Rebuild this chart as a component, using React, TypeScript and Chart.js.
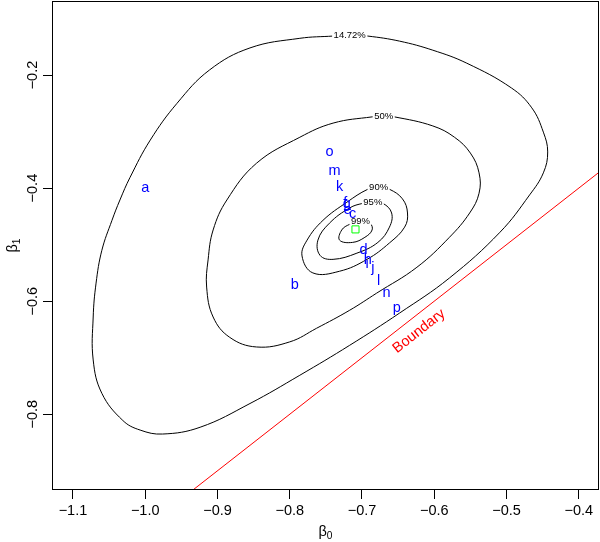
import { useEffect, useRef } from 'react';
import { Chart, registerables } from 'chart.js';

Chart.register(...registerables);

const FONT = '"Liberation Sans", Arial, Helvetica, sans-serif';

// Axis ranges and ticks
const xRange = [-1.129, -0.372];
const yRange = [-0.934, -0.069];
const xTicks = [-1.1, -1.0, -0.9, -0.8, -0.7, -0.6, -0.5, -0.4];
const yTicks = [-0.8, -0.6, -0.4, -0.2];

// Contour curves (closed)
const c1472X = [-0.717, -0.692, -0.648, -0.602, -0.555, -0.493, -0.465, -0.449, -0.443, -0.449, -0.468, -0.509, -0.579, -0.648, -0.717, -0.786, -0.855, -0.924, -0.976, -1.007, -1.031, -1.060, -1.072, -1.072, -1.068, -1.060, -1.046, -1.035, -1.021, -0.993, -0.956, -0.911, -0.855, -0.786, -0.740];
const c1472Y = [-0.129, -0.131, -0.140, -0.156, -0.179, -0.223, -0.258, -0.301, -0.336, -0.373, -0.412, -0.478, -0.559, -0.621, -0.678, -0.731, -0.781, -0.823, -0.835, -0.828, -0.811, -0.763, -0.704, -0.628, -0.568, -0.510, -0.457, -0.421, -0.381, -0.315, -0.250, -0.191, -0.152, -0.135, -0.131];

const c50X = [-0.670, -0.655, -0.602, -0.572, -0.550, -0.538, -0.538, -0.551, -0.579, -0.624, -0.680, -0.717, -0.763, -0.800, -0.846, -0.883, -0.906, -0.915, -0.913, -0.906, -0.887, -0.846, -0.786, -0.740, -0.686];
const c50Y = [-0.273, -0.274, -0.290, -0.310, -0.338, -0.373, -0.409, -0.444, -0.487, -0.540, -0.586, -0.616, -0.648, -0.672, -0.681, -0.664, -0.628, -0.575, -0.527, -0.474, -0.421, -0.356, -0.310, -0.285, -0.274];

const c90X = [-0.677, -0.662, -0.644, -0.637, -0.641, -0.662, -0.693, -0.731, -0.768, -0.783, -0.776, -0.754, -0.721, -0.692];
const c90Y = [-0.398, -0.402, -0.419, -0.444, -0.469, -0.497, -0.526, -0.547, -0.550, -0.520, -0.492, -0.457, -0.425, -0.402];

const c95X = [-0.685, -0.671, -0.659, -0.662, -0.678, -0.707, -0.740, -0.758, -0.761, -0.745, -0.717, -0.699];
const c95Y = [-0.425, -0.427, -0.444, -0.469, -0.496, -0.515, -0.526, -0.519, -0.492, -0.462, -0.435, -0.427];

const c99X = [-0.702, -0.689, -0.686, -0.696, -0.713, -0.731, -0.728, -0.717];
const c99Y = [-0.458, -0.462, -0.474, -0.487, -0.496, -0.492, -0.474, -0.464];

// Contour labels
const contourLabels = ['14.72%', '50%', '90%', '95%', '99%'];
const contourLabelX = [-0.717, -0.670, -0.677, -0.685, -0.702];
const contourLabelY = [-0.130, -0.273, -0.398, -0.425, -0.458];

// Letter-labelled points
const pointLetters = ['a', 'b', 'o', 'm', 'k', 'f', 'g', 'e', 'c', 'd', 'h', 'i', 'j', 'l', 'n', 'p'];
const pointX = [-1.000, -0.793, -0.745, -0.738, -0.731, -0.723, -0.721, -0.720, -0.713, -0.698, -0.692, -0.693, -0.685, -0.677, -0.666, -0.652];
const pointY = [-0.400, -0.568, -0.336, -0.370, -0.396, -0.423, -0.430, -0.439, -0.446, -0.506, -0.524, -0.531, -0.542, -0.561, -0.586, -0.614];

// Estimate (green square)
const mleX = [-0.709];
const mleY = [-0.473];

// Boundary line beta1 = beta0
const boundaryX = [-1.0, -0.3];
const boundaryY = [-1.0, -0.3];
const boundaryLabel = 'Boundary';
const boundaryLabelX = -0.621;
const boundaryLabelY = -0.653;

const fmt = (v: number) => (v < 0 ? '\u2212' : '') + Math.abs(v).toFixed(1);

function closed(xs: number[], ys: number[]) {
  const pts = xs.map((x, i) => ({ x, y: ys[i] }));
  const n = pts.length;
  return [pts[n - 1], ...pts, pts[0], pts[1]];
}

function contourDataset(xs: number[], ys: number[]) {
  const data = closed(xs, ys);
  const last = data.length - 1;
  return {
    type: 'scatter' as const,
    data,
    showLine: true,
    pointRadius: 0,
    borderColor: '#000',
    borderWidth: 1,
    tension: 0.4,
    segment: {
      borderColor: (ctx: any) =>
        ctx.p0DataIndex === 0 || ctx.p1DataIndex === last ? 'rgba(0,0,0,0)' : '#000',
    },
  };
}

function drawInk(ctx: CanvasRenderingContext2D, text: string, px: number, py: number) {
  ctx.textAlign = 'center';
  ctx.textBaseline = 'alphabetic';
  const m = ctx.measureText(text);
  ctx.fillText(text, px, py + (m.actualBoundingBoxAscent - m.actualBoundingBoxDescent) / 2);
}

function drawBetaSub(ctx: CanvasRenderingContext2D, sub: string, cx: number, baseY: number) {
  ctx.textAlign = 'left';
  ctx.textBaseline = 'alphabetic';
  ctx.font = `14.5px ${FONT}`;
  const wb = ctx.measureText('\u03B2').width;
  ctx.font = `10.2px ${FONT}`;
  const ws = ctx.measureText(sub).width;
  const start = cx - (wb + ws) / 2;
  ctx.font = `14.5px ${FONT}`;
  ctx.fillText('\u03B2', start, baseY);
  ctx.font = `10.2px ${FONT}`;
  ctx.fillText(sub, start + wb, baseY + 3);
}

const annotPlugin = {
  id: 'annot',
  afterDatasetsDraw(chart: any) {
    const { ctx, scales } = chart;
    const xs = scales.x;
    const ys = scales.y;
    ctx.save();
    // contour labels with gaps
    ctx.font = `9.5px ${FONT}`;
    contourLabels.forEach((t, i) => {
      const px = xs.getPixelForValue(contourLabelX[i]);
      const py = ys.getPixelForValue(contourLabelY[i]);
      const w = ctx.measureText(t).width + 3;
      ctx.fillStyle = '#fff';
      ctx.fillRect(px - w / 2, py - 4, w, 8);
      ctx.fillStyle = '#000';
      drawInk(ctx, t, px, py);
    });
    // letters
    ctx.font = `14.5px ${FONT}`;
    ctx.fillStyle = '#0000FF';
    pointLetters.forEach((t, i) => {
      drawInk(ctx, t, xs.getPixelForValue(pointX[i]), ys.getPixelForValue(pointY[i]));
    });
    // boundary label
    const p1x = xs.getPixelForValue(-0.9), p1y = ys.getPixelForValue(-0.9);
    const p2x = xs.getPixelForValue(-0.5), p2y = ys.getPixelForValue(-0.5);
    const ang = Math.atan2(p2y - p1y, p2x - p1x);
    ctx.translate(xs.getPixelForValue(boundaryLabelX), ys.getPixelForValue(boundaryLabelY));
    ctx.rotate(ang);
    ctx.fillStyle = '#FF0000';
    drawInk(ctx, boundaryLabel, 0, 0);
    ctx.restore();
  },
  afterDraw(chart: any) {
    const { ctx, chartArea } = chart;
    ctx.save();
    ctx.strokeStyle = '#000';
    ctx.lineWidth = 1;
    ctx.strokeRect(
      Math.round(chartArea.left) + 0.5,
      Math.round(chartArea.top) + 0.5,
      Math.round(chartArea.right) - Math.round(chartArea.left) - 1,
      Math.round(chartArea.bottom) - Math.round(chartArea.top) - 1
    );
    ctx.fillStyle = '#000';
    const cx = (chartArea.left + chartArea.right) / 2;
    drawBetaSub(ctx, '0', cx, 536);
    const cy = (chartArea.top + chartArea.bottom) / 2;
    ctx.translate(17, cy);
    ctx.rotate(-Math.PI / 2);
    drawBetaSub(ctx, '1', 0, 0);
    ctx.restore();
  },
};

export default function App() {
  const ref = useRef<HTMLCanvasElement>(null);
  useEffect(() => {
    document.body.style.margin = '0';
    Chart.defaults.font.family = FONT;
    const chart = new Chart(ref.current as HTMLCanvasElement, {
      type: 'scatter',
      data: {
        datasets: [
          contourDataset(c1472X, c1472Y),
          contourDataset(c50X, c50Y),
          contourDataset(c90X, c90Y),
          contourDataset(c95X, c95Y),
          contourDataset(c99X, c99Y),
          {
            type: 'scatter',
            data: boundaryX.map((x, i) => ({ x, y: boundaryY[i] })),
            showLine: true,
            pointRadius: 0,
            borderColor: '#FF0000',
            borderWidth: 1,
            tension: 0,
          },
          {
            type: 'scatter',
            data: mleX.map((x, i) => ({ x, y: mleY[i] })),
            pointStyle: 'rect',
            pointRadius: 5,
            borderColor: '#00FF00',
            backgroundColor: 'rgba(0,0,0,0)',
            borderWidth: 1,
          },
        ] as any,
      },
      options: {
        animation: false,
        responsive: true,
        maintainAspectRatio: false,
        events: [],
        layout: { autoPadding: false, padding: { top: 1, right: 1, left: 0, bottom: 0 } },
        plugins: { legend: { display: false }, tooltip: { enabled: false } },
        scales: {
          x: {
            type: 'linear',
            position: 'bottom',
            min: xRange[0],
            max: xRange[1],
            afterBuildTicks: (s: any) => {
              s.ticks = xTicks.map((v) => ({ value: v }));
            },
            afterFit: (s: any) => {
              s.height = 52;
              s.paddingLeft = 0;
              s.paddingRight = 0;
            },
            ticks: {
              font: { family: FONT, size: 14.5 },
              color: '#000',
              padding: 3.5,
              minRotation: 0,
              maxRotation: 0,
              autoSkip: false,
              callback: (v: any) => fmt(Number(v)),
            },
            grid: { display: true, drawOnChartArea: false, drawTicks: true, tickLength: 9, color: '#000', lineWidth: 1 },
            border: { display: false },
          },
          y: {
            type: 'linear',
            position: 'left',
            min: yRange[0],
            max: yRange[1],
            afterBuildTicks: (s: any) => {
              s.ticks = yTicks.map((v) => ({ value: v }));
            },
            afterFit: (s: any) => {
              s.width = 52;
              s.paddingTop = 0;
              s.paddingBottom = 0;
            },
            ticks: {
              font: { family: FONT, size: 14.5 },
              color: '#000',
              padding: -4,
              minRotation: 90,
              maxRotation: 90,
              crossAlign: 'center',
              autoSkip: false,
              callback: (v: any) => fmt(Number(v)),
            },
            grid: { display: true, drawOnChartArea: false, drawTicks: true, tickLength: 9, color: '#000', lineWidth: 1 },
            border: { display: false },
          },
        },
      } as any,
      plugins: [annotPlugin],
    });
    return () => chart.destroy();
  }, []);
  return (
    <div style={{ position: 'absolute', left: 0, top: 0, width: 600, height: 542 }}>
      <canvas ref={ref} />
    </div>
  );
}
